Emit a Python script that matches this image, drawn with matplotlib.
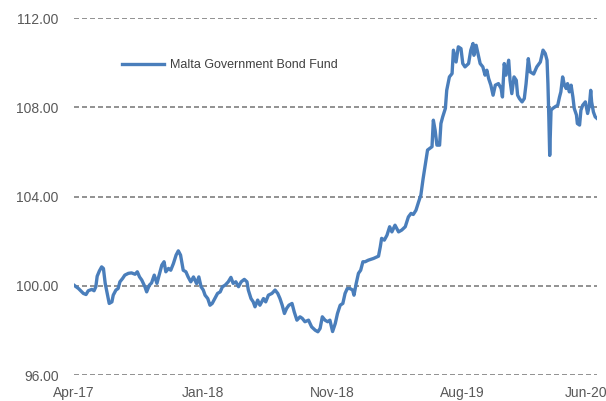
import matplotlib
matplotlib.use("Agg")
import matplotlib.pyplot as plt
import matplotlib.transforms as mtransforms
import pandas as pd

start = pd.Timestamp("2017-04-03")

# days after start
days = [0, 10, 21, 27, 32, 40, 45, 49, 52, 57, 62, 66, 70, 73, 79, 85, 88, 94, 99, 103,
        109, 114, 122, 129, 137, 142, 147, 152, 159, 163, 169, 174, 180, 186, 191, 197, 202, 206, 212, 217,
        223, 229, 234, 239, 245, 251, 256, 262, 268, 275, 280, 285, 290, 294, 300, 305, 310, 316, 322, 328,
        333, 339, 346, 352, 357, 363, 369, 375, 382, 388, 391, 397, 402, 406, 412, 417, 425, 430, 436, 444,
        451, 457, 462, 467, 472, 477, 482, 489, 494, 500, 507, 512, 518, 526, 533, 541, 547, 552, 557, 563,
        569, 574, 580, 586, 591, 597, 603, 608, 613, 619, 625, 628, 633, 638, 643, 648, 653, 660, 672, 683,
        687, 690, 696, 702, 708, 713, 720, 728, 735, 743, 750, 756, 761, 767, 773, 778, 783, 790, 793, 803,
        806, 810, 814, 820, 823, 827, 833, 836, 842, 848, 851, 857, 862, 868, 872, 877, 885, 890, 895, 897,
        902, 907, 911, 917, 922, 926, 930, 935, 940, 945, 952, 958, 961, 965, 969, 975, 978, 982, 987, 992,
        995, 999, 1005, 1010, 1014, 1019, 1023, 1031, 1038, 1046, 1052, 1057, 1061, 1063, 1065, 1067, 1070, 1074, 1079, 1085,
        1089, 1092, 1096, 1100, 1104, 1107, 1111, 1115, 1119, 1122, 1127, 1129, 1134, 1137, 1141, 1147, 1152, 1156, 1159, 1161,
        1165, 1169, 1173]

fund = [100.03, 99.88, 99.66, 99.61, 99.78, 99.84, 99.78, 99.96, 100.43, 100.67, 100.85, 100.78, 100.11, 99.81, 99.21, 99.28, 99.58, 99.81, 99.88, 100.18,
        100.33, 100.48, 100.56, 100.58, 100.52, 100.63, 100.40, 100.26, 99.96, 99.73, 100.03, 100.13, 100.48, 100.11, 100.48, 100.93, 101.08, 100.63, 100.78, 100.70,
        101.00, 101.38, 101.57, 101.38, 100.70, 100.63, 100.40, 100.18, 100.40, 100.10, 100.40, 99.96, 99.81, 99.58, 99.43, 99.13, 99.21, 99.43, 99.66, 99.73,
        99.96, 100.03, 100.18, 100.38, 100.11, 100.18, 99.96, 100.18, 100.29, 100.18, 99.81, 99.43, 99.28, 99.06, 99.36, 99.13, 99.43, 99.28, 99.58, 99.66,
        99.81, 99.66, 99.43, 99.13, 98.76, 98.99, 99.13, 99.21, 98.83, 98.46, 98.61, 98.54, 98.39, 98.46, 98.16, 98.01, 97.94, 98.09, 98.61, 98.46,
        98.39, 98.46, 97.95, 98.31, 98.76, 99.13, 99.21, 99.66, 99.88, 99.88, 99.81, 99.58, 100.11, 100.56, 100.70, 101.08, 101.08, 101.15, 101.23, 101.33,
        101.75, 102.13, 102.05, 102.27, 102.65, 102.42, 102.72, 102.42, 102.50, 102.65, 103.09, 103.25, 103.20, 103.39, 103.77, 104.07, 104.80, 105.71, 106.09, 106.24,
        107.43, 106.98, 106.31, 106.31, 107.28, 107.58, 107.96, 108.77, 109.37, 109.52, 110.57, 110.04, 110.72, 110.64, 109.97, 109.82, 109.97, 110.57, 110.87, 110.34,
        110.79, 110.34, 109.97, 109.82, 109.45, 109.67, 109.30, 109.00, 108.55, 109.00, 109.07, 108.85, 108.47, 109.97, 109.45, 110.12, 109.22, 108.62, 109.37, 109.22,
        108.55, 108.40, 108.25, 108.40, 109.07, 110.19, 109.60, 109.50, 109.82, 110.04, 110.57, 110.42, 110.12, 109.07, 107.58, 105.85, 107.88, 107.96, 108.03, 108.10,
        108.47, 108.70, 109.37, 109.00, 108.85, 109.07, 108.70, 109.00, 108.47, 107.96, 107.66, 107.28, 107.21, 107.88, 108.10, 108.25, 107.73, 108.10, 108.77, 108.25,
        107.80, 107.58, 107.51]

tick_days = [0, 290, 580, 870, 1160]
tick_labels = ["Apr-17", "Jan-18", "Nov-18", "Aug-19", "Jun-20"]
y_ticks = [96, 100, 104, 108, 112]

plt.rcParams['font.family'] = ['Liberation Sans', 'DejaVu Sans']

dates = [start + pd.Timedelta(days=d) for d in days]
tick_dates = [start + pd.Timedelta(days=d) for d in tick_days]

fig = plt.figure(figsize=(6.06, 4.01), dpi=100)
ax = fig.add_axes([0.1221, 0.0648, 0.8630, 0.8896])

for y in y_ticks:
    ax.axhline(y, color="#7f7f7f", lw=1.2, ls=(0, (3, 1.8)), zorder=1)

ax.plot(dates, fund, color="#4a7ebb", lw=2.4, solid_joinstyle="round", zorder=3,
        label="Malta Government Bond Fund")

ax.set_xlim(start, start + pd.Timedelta(days=1173))
ax.set_ylim(96, 112)
ax.set_xticks(tick_dates)
ax.set_xticklabels(tick_labels)
ax.set_yticks(y_ticks)
ax.set_yticklabels([f"{v:.2f}" for v in y_ticks])
ax.tick_params(length=0, labelsize=10, labelcolor="#595959")
ax.tick_params(axis="x", pad=8)
ax.tick_params(axis="y", pad=11)
for s in ax.spines.values():
    s.set_visible(False)

# last label would run off the right edge, nudge it in a little
last = ax.get_xticklabels()[-1]
last.set_transform(last.get_transform() + mtransforms.ScaledTranslation(-5 / 100, 0, fig.dpi_scale_trans))

ax.legend(loc="center left", bbox_to_anchor=(0.201, 0.838), bbox_transform=fig.transFigure,
          frameon=False, borderpad=0, borderaxespad=0, handlelength=3.4, handletextpad=0.45,
          prop={"size": 9}, labelcolor="#404040")

fig.savefig("out.png", dpi=100)
